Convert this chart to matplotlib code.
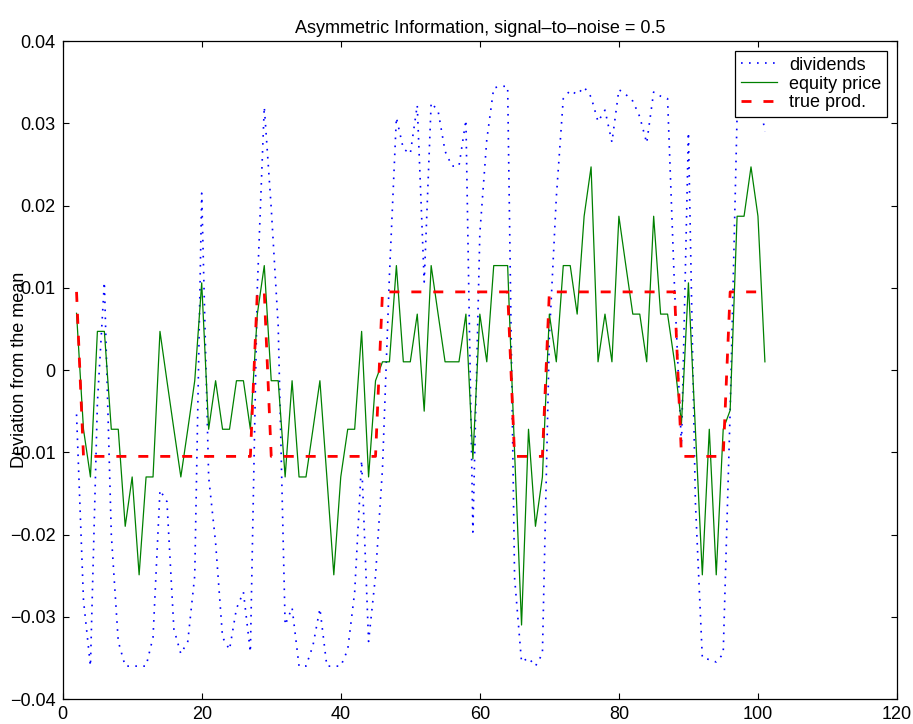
import matplotlib
matplotlib.use('Agg')
import matplotlib.pyplot as plt
import numpy as np
from matplotlib.ticker import FuncFormatter

plt.rcParams['font.family'] = ['Liberation Sans', 'DejaVu Sans']

# time index (periods 2..101)
periods = list(range(2, 102))

# dividends
dividends = [
    -0.0054, -0.0280, -0.0360, -0.0040, 0.0107, -0.0200, -0.0330, -0.0360, -0.0360, -0.0360,   # 2-11
    -0.0360, -0.0325, -0.0146, -0.0160, -0.0315, -0.0345, -0.0330, -0.0250, 0.0215, -0.0130,   # 12-21
    -0.0210, -0.0325, -0.0340, -0.0290, -0.0270, -0.0343, 0.0100, 0.0320, 0.0197, 0.0054,     # 22-31
    -0.0310, -0.0289, -0.0360, -0.0360, -0.0335, -0.0290, -0.0360, -0.0360, -0.0360, -0.0340,  # 32-41
    -0.0270, -0.0110, -0.0330, -0.0250, -0.0120, 0.0115, 0.0307, 0.0269, 0.0263, 0.0322,      # 42-51
    0.0107, 0.0325, 0.0315, 0.0266, 0.0248, 0.0248, 0.0304, -0.0197, 0.0166, 0.0280,          # 52-61
    0.0343, 0.0345, 0.0345, -0.0253, -0.0355, -0.0350, -0.0360, -0.0345, 0.0040, 0.0210,      # 62-71
    0.0330, 0.0340, 0.0335, 0.0344, 0.0332, 0.0302, 0.0316, 0.0277, 0.0341, 0.0335,           # 72-81
    0.0327, 0.0308, 0.0276, 0.0338, 0.0333, 0.0330, 0.0100, -0.0092, 0.0289, -0.0160,         # 82-91
    -0.0350, -0.0352, -0.0355, -0.0345, -0.0050, 0.0310, 0.0340, 0.0350, 0.0340, 0.0290,      # 92-101
]

# equity price
equity_price = [
    0.0069, -0.0072, -0.0130, 0.0047, 0.0047, -0.0072, -0.0072, -0.0190, -0.0130, -0.0249,    # 2-11
    -0.0130, -0.0130, 0.0047, -0.0013, -0.0072, -0.0130, -0.0072, -0.0013, 0.0106, -0.0072,   # 12-21
    -0.0013, -0.0072, -0.0072, -0.0013, -0.0013, -0.0072, 0.0068, 0.0127, -0.0013, -0.0013,   # 22-31
    -0.0130, -0.0013, -0.0130, -0.0130, -0.0072, -0.0013, -0.0130, -0.0249, -0.0130, -0.0072, # 32-41
    -0.0072, 0.0047, -0.0130, -0.0013, 0.0010, 0.0010, 0.0127, 0.0010, 0.0010, 0.0068,        # 42-51
    -0.0050, 0.0127, 0.0068, 0.0010, 0.0010, 0.0010, 0.0068, -0.0108, 0.0068, 0.0010,         # 52-61
    0.0127, 0.0127, 0.0127, -0.0100, -0.0310, -0.0072, -0.0190, -0.0130, 0.0068, 0.0010,      # 62-71
    0.0127, 0.0127, 0.0068, 0.0187, 0.0247, 0.0010, 0.0068, 0.0010, 0.0187, 0.0127,           # 72-81
    0.0068, 0.0068, 0.0010, 0.0187, 0.0068, 0.0068, 0.0010, -0.0065, 0.0106, -0.0072,         # 82-91
    -0.0249, -0.0072, -0.0249, -0.0072, -0.0049, 0.0187, 0.0187, 0.0247, 0.0187, 0.0010,      # 92-101
]

# true productivity state (two levels)
hi, lo = 0.0095, -0.0105
high_periods = [2, 28, 29] + list(range(46, 65)) + list(range(70, 89)) + list(range(96, 102))
true_prod = [hi if t in high_periods else lo for t in periods]

fig = plt.figure(figsize=(9.13, 7.24), dpi=100)
ax = fig.add_axes([0.0686, 0.0345, 0.9139, 0.9088])

ax.plot(periods, dividends, color='#0000ff', lw=1.2, dashes=(1, 3.8), label='dividends')
ax.plot(periods, equity_price, color='#008000', lw=0.9, label='equity price')
ax.plot(periods, true_prod, color='#ff0000', lw=2.0, dashes=(3.6, 4.3), label='true prod.')

ax.set_xlim(0, 120)
ax.set_ylim(-0.04, 0.04)
ax.set_xticks(np.arange(0, 121, 20))
ax.set_yticks(np.arange(-0.04, 0.0401, 0.01))
ax.yaxis.set_major_formatter(FuncFormatter(lambda v, p: ('%g' % round(v, 3)).replace('-', '\u2212')))

ax.tick_params(direction='in', top=True, right=True, length=4.5, width=0.8, labelsize=13, pad=5)
for s in ax.spines.values():
    s.set_linewidth(0.9)

ax.set_title('Asymmetric Information, signal\u2013to\u2013noise = 0.5', fontsize=13, pad=6)
ax.set_ylabel('Deviation from the mean', fontsize=13)
ax.yaxis.set_label_coords(-0.041, 0.5)

leg = ax.legend(loc='upper right', fontsize=13, fancybox=False, framealpha=1, edgecolor='black',
                handlelength=2.0, handletextpad=0.65, borderpad=0.32, labelspacing=0.1,
                borderaxespad=0.55)
leg.get_frame().set_linewidth(0.9)

plt.savefig('out.png', dpi=100)
